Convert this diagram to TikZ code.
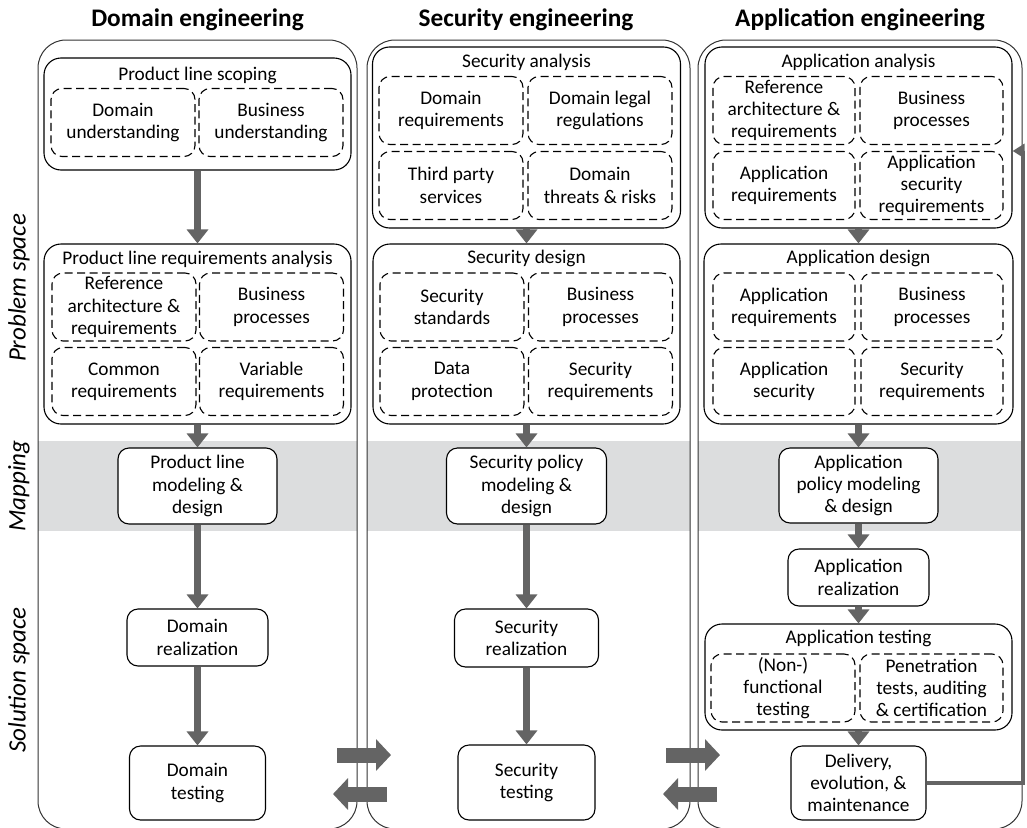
\documentclass[tikz,border=0pt]{standalone}
\usepackage{fontspec}
\setmainfont{Carlito}
\usetikzlibrary{arrows.meta, positioning}

\definecolor{arrowgray}{RGB}{100,100,100}
\definecolor{bandgray}{RGB}{220,221,222}

\begin{document}
\begin{tikzpicture}[
    x=1pt, y=-1pt,
    every node/.style={font=\fontsize{19.3}{22.3}\selectfont, text=black},
    column/.style={draw=black!80, line width=1pt, rounded corners=28pt},
    group/.style={rectangle, draw=black, line width=1.1pt, rounded corners=17pt},
    part/.style={rectangle, draw=black, line width=1.1pt, dash pattern=on 8pt off 4.5pt, rounded corners=11pt, align=center, minimum width=144pt, minimum height=68pt, inner sep=0pt},
    task/.style={rectangle, draw=black, line width=1.1pt, rounded corners=11pt, fill=white, align=center, inner sep=1pt},
    head/.style={font=\fontsize{25.3}{29}\selectfont\bfseries},
    side/.style={font=\fontsize{25}{29}\selectfont\itshape, rotate=90},
    flow/.style={draw=arrowgray, line width=7pt, -{Triangle[width=21pt, length=14pt]}},
    swap/.style={draw=arrowgray, line width=15pt, -{Triangle[width=31pt, length=15pt]}},
    back/.style={draw=arrowgray, line width=4.5pt, -{Triangle[width=14pt, length=12pt]}}
]
\useasboundingbox (0,0) rectangle (1027,827);
\clip (0,0) rectangle (1027,827);

% headings
\node[head] (dom) at (197.5,20) {Domain engineering};
\node[head] (sec) at (526,20) {Security engineering};
\node[head] (app) at (860,20) {Application engineering};

% spaces
\node[side] (prob) at (19,288) {Problem space};
\node[side] (map) at (19,486) {Mapping};
\node[side] (sol) at (19,680) {Solution space};

% mapping band and columns
\fill[bandgray] (38,441) rectangle (357,531);
\fill[bandgray] (367,441) rectangle (690,531);
\fill[bandgray] (698,441) rectangle (1022,531);
\draw[column] (38,40) rectangle (357,829);
\draw[column] (367,40) rectangle (690,829);
\draw[column] (698,40) rectangle (1022,829);

% Domain engineering
\node[group, minimum width=307pt, minimum height=112pt] (scope) at (197.5,114) {};
\node (scope_t) at (197.5,75) {Product line scoping};
\node[part] (du) at (123,122.5) {Domain\\understanding};
\node[part] (bu) at (271,122.5) {Business\\understanding};

\node[group, minimum width=307pt, minimum height=180pt] (plra) at (197.5,334) {};
\node (plra_t) at (197.5,259) {Product line requirements analysis};
\node[part] (ref) at (124,307) {Reference\\architecture \&\\requirements};
\node[part] (bp) at (271.5,307) {Business\\processes};
\node[part] (cr) at (124,381.5) {Common\\requirements};
\node[part] (vr) at (271.5,381.5) {Variable\\requirements};

\node[task, minimum width=159pt, minimum height=76pt] (plmd) at (197.5,486) {Product line\\modeling \&\\design};
\node[task, minimum width=141pt, minimum height=57pt] (dr) at (197.5,637.5) {Domain\\realization};
\node[task, minimum width=136pt, minimum height=74pt] (dt) at (197.5,783) {Domain\\testing};

% Security engineering
\node[group, minimum width=308pt, minimum height=181pt] (sa) at (526.5,137.5) {};
\node (sa_t) at (526.5,62) {Security analysis};
\node[part] (dreq) at (451,110.5) {Domain\\requirements};
\node[part] (dlr) at (600,110.5) {Domain legal\\regulations};
\node[part] (tps) at (451,185.5) {Third party\\services};
\node[part] (dtr) at (600,185.5) {Domain\\threats \& risks};

\node[group, minimum width=307pt, minimum height=180pt] (sd) at (526.5,334) {};
\node (sd_t) at (526.5,258) {Security design};
\node[part] (ss) at (452,307) {Security\\standards};
\node[part] (sbp) at (600.5,307) {Business\\processes};
\node[part] (dp) at (452,381.5) {Data\\protection};
\node[part] (sr) at (600.5,381.5) {Security\\requirements};

\node[task, minimum width=160pt, minimum height=76pt] (spmd) at (526.5,486) {Security policy\\modeling \&\\design};
\node[task, minimum width=144pt, minimum height=58pt] (sre) at (526.5,638) {Security\\realization};
\node[task, minimum width=137pt, minimum height=75pt] (st) at (526.5,782.5) {Security\\testing};

% Application engineering
\node[group, minimum width=307pt, minimum height=181pt] (aa) at (858.5,137.5) {};
\node (aa_t) at (858.5,62) {Application analysis};
\node[part, minimum width=142pt] (rar) at (784,110.5) {Reference\\architecture \&\\requirements};
\node[part, minimum width=143pt] (abp) at (931.5,110.5) {Business\\processes};
\node[part, minimum width=142pt] (areq) at (784,185.5) {Application\\requirements};
\node[part, minimum width=143pt] (asr) at (931.5,185.5) {Application\\security\\requirements};

\node[group, minimum width=309pt, minimum height=180pt] (ad) at (858.5,334) {};
\node (ad_t) at (858.5,258) {Application design};
\node[part, minimum width=142pt] (adr) at (784,307) {Application\\requirements};
\node[part, minimum width=142pt] (adbp) at (932,307) {Business\\processes};
\node[part, minimum width=142pt] (as) at (784,381.5) {Application\\security};
\node[part, minimum width=142pt] (adsr) at (932,381.5) {Security\\requirements};

\node[task, minimum width=159pt, minimum height=75pt] (apmd) at (858.5,485.5) {Application\\policy modeling\\\& design};
\node[task, minimum width=141pt, minimum height=57pt] (ar) at (858.5,577.5) {Application\\realization};
\node[group, minimum width=307pt, minimum height=106pt] (at) at (858.5,677) {};
\node (at_t) at (858.5,638) {Application testing};
\node[part, minimum width=144pt] (nft) at (783,688) {(Non-)\\functional\\testing};
\node[part, minimum width=143pt] (pta) at (931.5,688) {Penetration\\tests, auditing\\\& certification};
\node[task, minimum width=135pt, minimum height=74pt] (del) at (858.5,783) {Delivery,\\evolution, \&\\maintenance};

% flow inside columns
\draw[flow] (scope) -- (plra);
\draw[flow] (plra) -- (plmd);
\draw[flow] (plmd) -- (dr);
\draw[flow] (dr) -- (dt);
\draw[flow] (sa) -- (sd);
\draw[flow] (sd) -- (spmd);
\draw[flow] (spmd) -- (sre);
\draw[flow] (sre) -- (st);
\draw[flow] (aa) -- (ad);
\draw[flow] (ad) -- (apmd);
\draw[flow] (apmd) -- (ar);
\draw[flow] (ar) -- (at);
\draw[flow] (at) -- (del);

% feedback to analysis
\coordinate (fb) at (1023,151);
\draw[back] (del.east) -| (fb) -- (fb -| aa.east);

% exchange between columns
\coordinate (ds_a) at (337,755);
\coordinate (ds_b) at (391,755);
\coordinate (sd_a) at (387,794);
\coordinate (sd_b) at (333,794);
\coordinate (sa_a) at (666,755);
\coordinate (sa_b) at (720,755);
\coordinate (as_a) at (717,794);
\coordinate (as_b) at (663,794);
\draw[swap] (ds_a) -- (ds_b);
\draw[swap] (sd_a) -- (sd_b);
\draw[swap] (sa_a) -- (sa_b);
\draw[swap] (as_a) -- (as_b);
\end{tikzpicture}
\end{document}
